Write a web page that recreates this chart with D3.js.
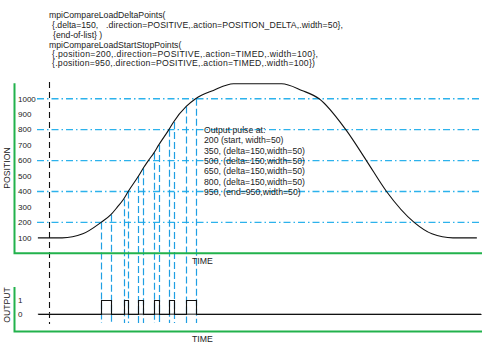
<!DOCTYPE html>
<html>
<head>
<meta charset="utf-8">
<script src="https://cdn.jsdelivr.net/npm/d3@7"></script>
<style>
  html, body { margin: 0; padding: 0; background: #fff; }
  svg { display: block; font-family: "Liberation Sans", Arial, sans-serif; }
  text { fill: #222; }
</style>
</head>
<body>
<svg id="chart" width="489" height="349"></svg>
<script>
// Motion profile: time (ms) vs commanded position (counts)
const profileTimes  = [51, 103, 147, 186, 207, 221, 234, 244, 266, 276, 287, 299, 309, 331, 341, 368, 388, 426, 469, 572, 615, 652, 709, 753, 796, 855, 893, 938, 989];
const profileValues = [100, 100, 126, 200, 250, 300, 350, 400, 500, 550, 600, 650, 700, 800, 850, 950, 1000, 1054, 1097, 1097, 1054, 1000, 800, 600, 400, 200, 126, 100, 100];

// Compare points: pulse start positions and pulse width (counts)
const pulseStarts = [200, 350, 500, 650, 800, 950];
const pulseWidth = 50;

// Axis ticks and reference lines
const positionTicks = [100, 200, 300, 400, 500, 600, 700, 800, 900, 1000];
const gridPositions = [200, 400, 600, 800, 1000];
const outputTicks = [0, 1];
const outputSpan = [51, 998];
const startTime = 75;

const codeLines = [
  "mpiCompareLoadDeltaPoints(",
  "{.delta=150,",
  "{end-of-list} )",
  "mpiCompareLoadStartStopPoints(",
  "{.position=200,.direction=POSITIVE,.action=TIMED,.width=100},",
  "{.position=950,.direction=POSITIVE,.action=TIMED,.width=100})"
];
const codeLine2Tail = ".direction=POSITIVE,.action=POSITION_DELTA,.width=50},";
const noteLines = [
  "Output pulse at:",
  "200 (start, width=50)",
  "350, (delta=150,width=50)",
  "500, (delta=150,width=50)",
  "650, (delta=150,width=50)",
  "800, (delta=150,width=50)",
  "950, (end=950,width=50)"
];

const svg = d3.select("#chart");
const green = "#22b24c";
const gridBlue = "#2cb2ec";
const edgeBlue = "#1f9fe3";

const x = d3.scaleLinear().domain([0, 1000]).range([14, 482]);
const y = d3.scaleLinear().domain([0, 1100]).range([253.3, 83.3]);
const yOut = d3.scaleLinear().domain([0, 1]).range([314.3, 300]);
const snap = v => Math.round(v) + 0.5;

// edge times: where the rising profile reaches each pulse edge position
const edgePositions = pulseStarts.flatMap(p => [p, p + pulseWidth]);
const edgeTimes = edgePositions.map(p => profileTimes[profileValues.indexOf(p)]);

// --- code listing
const code = svg.append("g").attr("font-size", 8.7);
const codeX = [49, 52, 53, 49, 52, 52];
const codeY = [18, 28, 37.5, 48, 57, 66];
const codeLen = [null, null, null, null, 266, 263];
codeLines.forEach((s, i) => {
  const t = code.append("text").attr("x", codeX[i]).attr("y", codeY[i]).text(s);
  if (codeLen[i]) t.attr("textLength", codeLen[i]).attr("lengthAdjust", "spacing");
});
code.append("text").attr("x", 106).attr("y", codeY[1])
  .attr("textLength", 237).attr("lengthAdjust", "spacing").text(codeLine2Tail);

// --- dash-dot reference lines
svg.append("g").selectAll("line").data(gridPositions).join("line")
  .attr("x1", 37).attr("x2", 481)
  .attr("y1", d => y(d)).attr("y2", d => y(d))
  .attr("stroke", gridBlue).attr("stroke-width", 1.3)
  .attr("stroke-dasharray", "7,3,1.5,3");

// --- vertical dashed edge lines from the profile down through the output plot
svg.append("g").selectAll("line").data(edgeTimes.map((t, i) => ({t, p: edgePositions[i]}))).join("line")
  .attr("x1", d => snap(x(d.t))).attr("x2", d => snap(x(d.t)))
  .attr("y1", d => y(d.p)).attr("y2", 323)
  .attr("stroke", edgeBlue).attr("stroke-width", 1.2)
  .attr("stroke-dasharray", "7,3");

// --- start marker
svg.append("line")
  .attr("x1", snap(x(startTime))).attr("x2", snap(x(startTime)))
  .attr("y1", 82).attr("y2", 324)
  .attr("stroke", "#111").attr("stroke-width", 1.1)
  .attr("stroke-dasharray", "6,4");

// --- position profile
const line = d3.line().x(d => x(d[0])).y(d => y(d[1])).curve(d3.curveMonotoneX);
svg.append("path")
  .datum(profileTimes.map((t, i) => [t, profileValues[i]]))
  .attr("d", line)
  .attr("fill", "none").attr("stroke", "#111").attr("stroke-width", 1.1);

// --- output signal
const outPts = [[outputSpan[0], 0]];
pulseStarts.forEach((p, i) => {
  const t0 = edgeTimes[2 * i], t1 = edgeTimes[2 * i + 1];
  outPts.push([t0, 0], [t0, 1], [t1, 1], [t1, 0]);
});
outPts.push([outputSpan[1], 0]);
svg.append("line")
  .attr("x1", x(outputSpan[0])).attr("x2", x(outputSpan[1]))
  .attr("y1", yOut(0)).attr("y2", yOut(0))
  .attr("stroke", "#666").attr("stroke-width", 1.4);
svg.append("path")
  .datum(outPts)
  .attr("d", d3.line().x(d => snap(x(d[0]))).y(d => snap(yOut(d[1]))))
  .attr("fill", "none").attr("stroke", "#111").attr("stroke-width", 1.1);

// --- axes
const axes = svg.append("g").attr("stroke", green).attr("stroke-width", 2).attr("fill", "none");
axes.append("path").attr("d", `M${x(0)+0.5},${y(1100)}V${y(0)}H${x(1000)}`);
axes.append("path").attr("d", `M${x(0)+0.5},287V${331.5}H${x(1000)}`);

// tick labels
svg.append("g").attr("font-size", 8).selectAll("text").data(positionTicks).join("text")
  .attr("x", 18).attr("y", d => y(d)).attr("dy", "0.35em").text(d => d);
svg.append("g").attr("font-size", 8).selectAll("text").data(outputTicks).join("text")
  .attr("x", 18).attr("y", d => yOut(d)).attr("dy", "0.35em").text(d => d);

// axis titles
svg.append("text").attr("font-size", 8.7).attr("text-anchor", "middle")
  .attr("transform", "translate(10,168) rotate(-90)").text("POSITION");
svg.append("text").attr("font-size", 8.7).attr("text-anchor", "middle")
  .attr("transform", "translate(10,305) rotate(-90)").text("OUTPUT");
svg.append("text").attr("font-size", 8.7).attr("x", 192).attr("y", 264).text("TIME");
svg.append("text").attr("font-size", 8.7).attr("x", 192).attr("y", 342).text("TIME");

// --- note
svg.append("g").attr("font-size", 8.7).selectAll("text").data(noteLines).join("text")
  .attr("x", 204).attr("y", (d, i) => 133 + i * 10.3).text(d => d);
</script>
</body>
</html>
